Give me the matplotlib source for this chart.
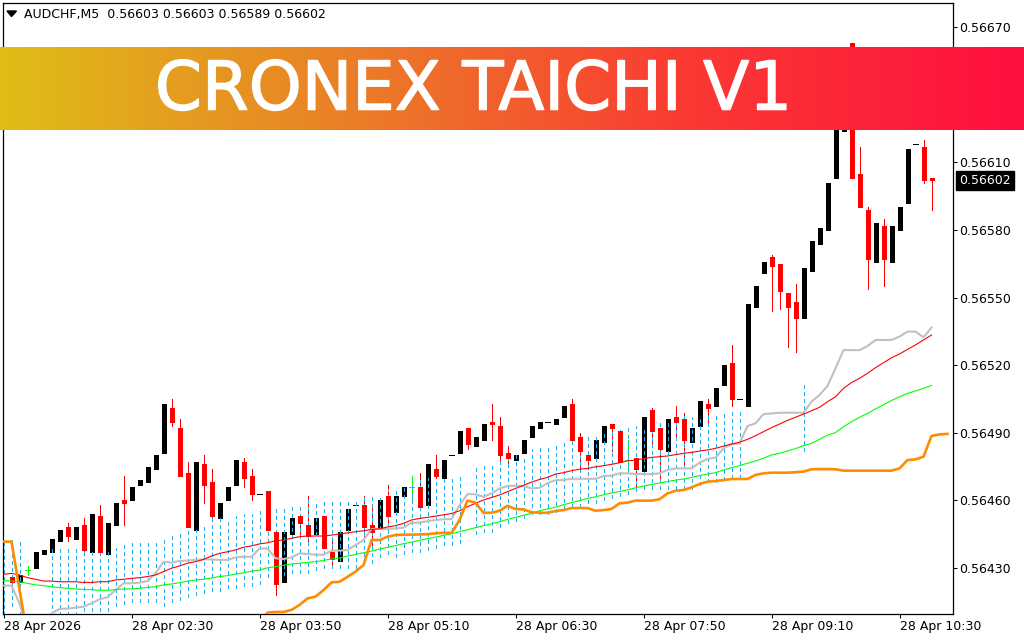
import numpy as np
import matplotlib
matplotlib.use("Agg")
import matplotlib.pyplot as plt
import matplotlib.patheffects as pe
from matplotlib.colors import LinearSegmentedColormap
from matplotlib.patches import Polygon
from matplotlib.transforms import blended_transform_factory

symbol = "AUDCHF,M5  0.56603 0.56603 0.56589 0.56602"
title = "CRONEX TAICHI V1"
last_price = 0.56602
x_labels = ["28 Apr 2026", "28 Apr 02:30", "28 Apr 03:50", "28 Apr 05:10",
            "28 Apr 06:30", "28 Apr 07:50", "28 Apr 09:10", "28 Apr 10:30"]
y_labels = ["0.56430", "0.56460", "0.56490", "0.56520", "0.56550",
            "0.56580", "0.56610", "0.56640", "0.56670"]

# Candles, bars 1..116, in points above 0.56400
opens = [26,24,29,30,36,37,42,48,43,49,37,53,36,49,60,60,67,68,74,81,101,92,72,47,76,68,52,60,67,77,71,63,64,46,24,45,53,49,45,53,37,33,47,58,58,49,48,62,55,62,66,66,58,74,70,80,81,92,84,87,95,93,81,78,81,88,92,95,94,97,103,88,80,79,86,94,91,78,79,73,100,92,82,97,96,86,93,103,102,111,121,105,102,146,161,168,165,152,148,141,162,174,180,203,224,263,205,189,166,182,166,180,192,218,217,203]
highs = [26,27,31,37,38,43,47,50,48,52,54,58,50,59,71,66,69,75,80,103,105,96,77,77,80,74,59,66,78,79,74,63,64,46,46,52,53,62,52,53,42,46,56,58,62,57,60,67,62,66,71,72,76,80,78,80,91,92,88,94,103,97,84,80,87,93,95,95,96,102,105,90,80,87,93,94,91,87,79,97,101,92,96,102,99,92,104,105,110,120,129,105,147,155,166,169,165,152,156,163,175,181,201,227,261,263,217,190,183,185,182,190,216,218,220,203]
lows = [24,24,27,30,36,37,42,42,43,36,37,37,36,49,49,60,67,68,74,81,93,71,48,47,59,52,52,60,67,66,60,63,47,18,24,45,45,42,45,39,30,33,47,58,44,40,48,49,55,62,59,57,58,70,70,80,81,83,84,87,87,78,75,78,81,88,92,95,94,97,87,74,74,79,86,82,77,73,65,73,85,69,82,87,75,86,93,93,102,111,102,105,102,146,161,144,145,128,126,141,162,174,180,203,224,203,190,154,166,155,166,180,192,218,201,189]
closes = [24,27,29,37,38,43,47,44,48,38,54,37,50,59,59,66,69,75,80,103,95,71,48,77,67,53,59,66,78,70,63,63,47,23,46,52,50,44,52,39,34,46,56,58,48,46,60,53,62,66,66,57,76,71,78,80,91,85,88,94,94,80,79,80,87,93,95,95,96,102,87,82,78,87,93,92,77,78,74,97,91,83,96,95,87,92,104,101,110,120,105,105,147,155,166,164,153,146,141,163,175,181,201,227,261,203,190,167,183,167,182,190,216,218,202,202]

# Dotted range bars, in points above 0.56400
hist_bars = [0,1,2] + list(range(6,58)) + list(range(59,93)) + [100]
hist_top = [42,43,43,39,39,39,40,39,39,39,39,39,40,41,41,42,43,44,45,46,48,47,49,52,52,52,53,54,54,56,58,58,58,59,59,60,59,60,60,60,61,61,62,63,63,65,65,66,68,69,70,70,70,70,72,75,76,77,78,79,81,80,83,85,85,86,87,88,88,90,90,91,92,93,93,93,93,94,95,95,96,98,97,97,98,98,99,100,101,113]
hist_bottom = [9,13,9,9,9,9,9,11,11,11,11,13,14,15,15,15,15,13,15,16,17,18,19,20,20,21,21,22,22,23,26,27,27,28,28,28,29,30,30,30,30,30,32,32,35,36,35,36,37,37,38,39,40,40,41,45,46,46,48,50,51,52,54,54,54,55,56,57,57,59,59,60,61,62,63,64,65,65,65,65,65,65,65,67,68,68,69,70,70,82]

# Indicator lines, bars 0.., in points above 0.56430
red_line = [-2.8,-2.4,-3.1,-4.3,-5.0,-5.8,-5.8,-6.1,-6.1,-6.1,-6.4,-6.4,-6.1,-6.1,-5.3,-5.0,-4.6,-4.3,-3.8,-3.1,-1.6,-0.1,0.9,2.1,2.8,3.8,5.3,6.5,7.2,8.0,9.2,9.8,10.7,11.2,12.1,12.4,13.2,13.9,14.2,14.2,14.2,14.6,15.1,
            15.6,16.1,16.5,17.1,17.4,18.2,18.8,19.8,21.3,22.0,22.5,23.0,23.6,24.2,25.4,27.2,28.7,30.2,31.3,32.4,33.9,35.3,36.7,38.1,39.3,40.2,41.7,42.3,43.2,43.8,44.2,44.9,45.4,46.0,46.7,47.6,47.9,48.5,49.1,49.4,49.7,50.3,
            50.9,51.3,51.9,52.4,53.1,54.1,55.0,55.8,57.1,58.7,60.5,62.3,63.9,65.5,66.9,68.3,69.8,71.3,73.8,76.0,79.7,82.3,84.2,86.4,88.9,91.1,93.3,95.0,97.0,99.0,101.2,103.4]
green_line = [-5.6,-5.8,-6.1,-6.8,-7.5,-7.8,-8.3,-8.7,-9.0,-9.3,-9.5,-9.6,-9.9,-9.9,-9.6,-9.3,-9.3,-9.0,-8.6,-8.3,-7.5,-7.1,-6.5,-5.9,-5.3,-5.0,-4.4,-3.8,-3.4,-2.7,-2.1,-1.5,-0.9,0.1,0.6,1.2,1.8,2.1,2.5,2.8,3.4,4.0,4.4,
              5.3,6.0,6.8,7.5,8.4,9.2,9.9,10.8,11.5,12.3,13.0,13.7,14.5,15.2,16.1,17.0,17.9,18.8,19.6,20.5,21.6,22.5,23.4,24.2,25.4,26.2,27.0,28.1,29.0,29.9,30.9,31.6,32.5,33.3,34.0,34.7,35.6,36.4,37.1,37.7,38.4,39.0,
              39.5,40.2,41.0,41.7,42.3,43.5,44.5,45.4,46.5,47.5,48.7,50.2,50.9,51.9,53.0,54.3,55.3,57.1,59.0,60.1,62.7,64.9,66.9,68.6,70.6,72.5,74.3,76.0,77.5,78.6,79.7,81.0]
gray_line = [-7.8,-7.8,-15.7,-26,-26,-26,-20.1,-18.2,-18.0,-17.6,-17.2,-15.7,-13.9,-13.0,-9.8,-6.8,-6.8,-6.5,-5.8,-2.4,2.8,2.4,3.1,3.3,3.6,3.8,3.8,3.6,3.6,4.7,5.0,5.0,8.6,8.7,4.3,4.0,4.7,6.5,6.2,5.9,5.9,7.7,7.7,
             8.0,10.2,12.4,17.3,17.3,17.3,17.6,17.9,20.1,20.1,20.8,21.3,21.6,21.7,27.9,32.8,32.7,31.6,33.1,35.3,36.4,36.5,36.4,35.3,35.6,37.6,39.0,39.0,39.6,39.6,39.6,39.6,40.8,41.0,42.0,42.0,41.7,41.7,41.7,42.0,43.5,44.2,
             44.2,44.2,46.7,48.4,49.0,53.1,55.0,55.3,63.0,64.2,68.3,68.6,68.9,68.9,68.9,68.9,73.8,76.8,80.8,88.6,96.7,96.7,96.7,98.5,101.2,101.2,101.2,102.7,104.9,104.9,102.4,106.7]
orange_line = [11.7,11.7,-9.5,-30.5,-30,-30,-30,-30,-30,-30,-30,-30,-30,-30,-30,-30,-30,-30,-30,-30,-30,-30,-30,-30,-30,-30,-30,-30,-30,-30,-30,-30,-24,-19.8,-19.5,-19.5,-18.6,-16.4,-13.5,-12.7,-9.8,-6.4,-6.1,
               -3.9,-1.6,1.3,12.4,12.4,13.9,14.6,14.8,14.8,14.9,15.0,15.4,15.6,15.6,21.3,29.9,29.0,24.5,24.5,25.4,27.6,26.2,26.0,24.7,24.5,24.5,25.3,25.7,26.6,26.6,26.6,25.4,25.7,26.2,28.7,29.0,29.9,29.9,29.9,30.5,33.1,34.3,
               34.6,35.8,37.3,38.3,38.6,39.0,39.5,39.5,39.5,41.3,42.0,42.3,42.3,42.3,42.5,42.8,43.8,43.9,43.9,43.8,43.2,43.2,43.2,43.2,43.2,43.2,43.2,44.2,47.9,48.2,49.4,58.6,59.3,59.5]

banner_stops = ["#dfbd17", "#ea8027", "#fa3b33", "#ff0f3f"]
W, H = 1024, 640
UI_FONT = "DejaVu Sans"
TITLE_FONT = "DejaVu Sans"
PX = 0.72


def cp(v):
    return (56400 + np.asarray(v, float)) / 1e5


def lp(v):
    return (56430 + np.asarray(v, float)) / 1e5


fig = plt.figure(figsize=(W / 100, H / 100), dpi=100, facecolor="white")
L, R, T, B = 2.5, 952.5, 2.5, 613.5
ax = fig.add_axes([L / W, 1 - B / H, (R - L) / W, (B - T) / H])
ax.set_xlim((L - 3.5) / 8, (R - 3.5) / 8)
ax.set_ylim(0.56430 + (568 - B) * 0.4438e-5, 0.56430 + (568 - T) * 0.4438e-5)
for s in ax.spines.values():
    s.set_linewidth(0.9)
    s.set_color("black")

bar_x = np.arange(1, len(opens) + 1)
o, h, l, c = cp(opens), cp(highs), cp(lows), cp(closes)
up = c > o
down = c < o
flat = c == o
wick = h > l

# Black bodies
ax.vlines(bar_x[up], o[up], c[up], color="black", linewidth=5 * PX, capstyle="butt", zorder=2, antialiased=False)
# Red wicks
ax.vlines(bar_x[down], l[down], h[down], color="#ff0000", linewidth=PX, capstyle="butt", zorder=2.5, antialiased=False)
# Doji
dj = flat & ~wick
ax.hlines(o[dj], bar_x[dj] - 0.31, bar_x[dj] + 0.31, color="black", linewidth=PX, capstyle="butt", zorder=2.5, antialiased=False)
dg = flat & wick
ax.hlines(o[dg], bar_x[dg] - 0.31, bar_x[dg] + 0.31, color="#00ff00", linewidth=PX, capstyle="butt", zorder=2.5, antialiased=False)
ax.vlines(bar_x[dg], l[dg], h[dg], color="#00ff00", linewidth=PX, capstyle="butt", zorder=2.5, antialiased=False)
# Dotted ranges
ax.vlines(hist_bars, cp(hist_bottom), cp(hist_top), color="#22aeea", linewidth=PX,
          linestyles=[(0, (3.5, 3))], zorder=3, antialiased=False)
# Red bodies
ax.vlines(bar_x[down], c[down], o[down], color="#ff0000", linewidth=5 * PX, capstyle="butt", zorder=4, antialiased=False)

ax.plot(np.arange(len(gray_line)), lp(gray_line), color="#c0c0c0", lw=1.5, zorder=5)
ax.plot(np.arange(len(red_line)), lp(red_line), color="#ff0000", lw=0.8, zorder=5.2)
ax.plot(np.arange(len(green_line)), lp(green_line), color="#00ff00", lw=0.8, zorder=5.2)
ax.plot(np.arange(len(orange_line)), lp(orange_line), color="#ff8c00", lw=1.9, zorder=5.4)

ax.set_xticks(np.arange(len(x_labels)) * 16, x_labels, ha="left", fontfamily=UI_FONT, fontsize=9)
ax.yaxis.tick_right()
ax.set_yticks([float(v) for v in y_labels], y_labels, fontfamily=UI_FONT, fontsize=9)
ax.tick_params(axis="x", length=3, width=0.75, pad=2, color="black")
ax.tick_params(axis="y", length=3, width=0.75, pad=2, color="black")

# Current price tag
tr = blended_transform_factory(ax.transAxes, ax.transData)
ax.text(1.0068, last_price, f"{last_price:.5f}", transform=tr, color="white", fontfamily=UI_FONT, fontsize=9,
        va="center", ha="left", zorder=7, clip_on=False,
        bbox=dict(facecolor="black", edgecolor="black", pad=2.2))

# Header
fig.add_artist(Polygon([[7 / W, 1 - 11 / H], [16.5 / W, 1 - 11 / H], [11.5 / W, 1 - 16.5 / H]], closed=True,
                       transform=fig.transFigure, color="black"))
fig.text(24 / W, 1 - 14.5 / H, symbol, fontfamily=UI_FONT, fontsize=9, va="center", ha="left")

# Banner
bx = fig.add_axes([0, 1 - 130 / H, 1, (130 - 47) / H], zorder=10)
cm = LinearSegmentedColormap.from_list("banner", banner_stops)
bx.imshow(np.linspace(0, 1, 512)[None, :], aspect="auto", cmap=cm, extent=[0, 1, 0, 1])
bx.axis("off")
bx.text(473.5 / W, 0.475, title, color="white", fontfamily=TITLE_FONT, fontsize=48.5, ha="center", va="center",
        transform=bx.transAxes, path_effects=[pe.withStroke(linewidth=1.0, foreground="white")])

fig.savefig("out.png", dpi=100, facecolor="white")
